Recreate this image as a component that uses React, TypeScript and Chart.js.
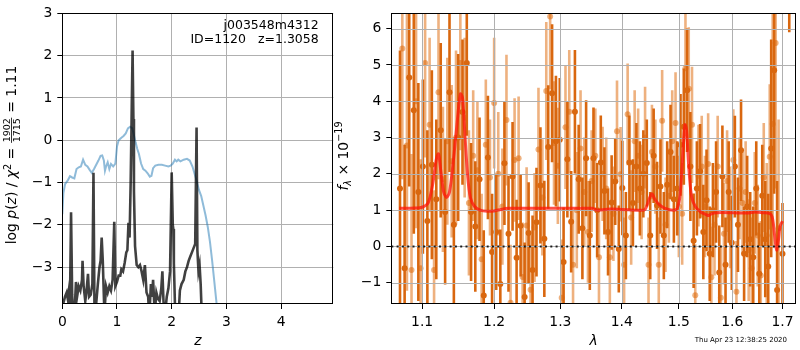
import React, { useEffect, useRef } from 'react';
import { Chart, registerables } from 'chart.js';
Chart.register(...registerables);

const FAMILY = "'DejaVu Sans', sans-serif";
Chart.defaults.font.family = FAMILY;
Chart.defaults.font.size = 13.9;
Chart.defaults.color = '#000';

// ---------------- left panel: redshift PDF ----------------
const CHI_Z = [0.00,0.02,0.05,0.10,0.14,0.18,0.22,0.26,0.30,0.34,0.38,0.42,0.46,0.50,0.54,0.58,0.62,0.66,0.70,0.73,0.76,0.78,0.80,0.83,0.86,0.89,0.93,0.97,1.00,1.03,1.08,1.12,1.16,1.20,1.24,1.28,1.31,1.34,1.37,1.40,1.44,1.48,1.52,1.56,1.60,1.63,1.66,1.70,1.76,1.82,1.88,1.94,1.98,2.02,2.06,2.09,2.12,2.16,2.22,2.28,2.33,2.38,2.42,2.46,2.50,2.54,2.58,2.62,2.66,2.70,2.74,2.78,2.82,2.86];
const CHI_LOG = [-1.75,-1.25,-1.04,-0.95,-0.85,-0.88,-0.90,-0.68,-0.64,-0.62,-0.46,-0.58,-0.62,-0.70,-0.77,-0.68,-0.58,-0.48,-0.37,-0.36,-0.48,-0.72,-0.62,-0.52,-0.68,-0.56,-0.62,-0.55,-0.15,0.00,0.06,0.10,0.16,0.28,0.32,0.28,0.12,-0.05,-0.20,-0.32,-0.55,-0.68,-0.72,-0.78,-0.86,-0.84,-0.66,-0.60,-0.58,-0.58,-0.60,-0.62,-0.60,-0.55,-0.46,-0.50,-0.46,-0.50,-0.46,-0.44,-0.48,-0.62,-0.80,-0.98,-1.18,-1.32,-1.55,-1.78,-2.05,-2.40,-2.85,-3.35,-3.85,-4.50];

const PZ_Z = [0.00,0.02,0.05,0.08,0.10,0.12,0.14,0.16,0.18,0.20,0.23,0.25,0.27,0.30,0.33,0.36,0.37,0.39,0.42,0.44,0.47,0.49,0.52,0.55,0.57,0.59,0.62,0.65,0.68,0.70,0.72,0.74,0.77,0.80,0.83,0.86,0.89,0.92,0.95,0.97,1.00,1.03,1.06,1.08,1.11,1.14,1.17,1.19,1.21,1.23,1.25,1.27,1.285,1.30,1.31,1.33,1.36,1.39,1.42,1.45,1.48,1.51,1.54,1.57,1.59,1.62,1.64,1.66,1.69,1.72,1.75,1.78,1.81,1.83,1.85,1.87,1.91,1.94,1.97,2.00,2.02,2.03,2.04,2.06,2.08,2.12,2.15,2.18,2.22,2.25,2.28,2.31,2.34,2.37,2.40,2.43,2.455,2.47,2.49,2.51,2.53,2.56];
const PZ_LOG = [-3.87,-3.85,-3.70,-3.60,-3.75,-3.55,-3.85,-1.70,-3.65,-4.20,-3.90,-3.35,-3.70,-3.45,-3.55,-3.30,-2.85,-3.45,-3.80,-3.60,-3.16,-3.70,-3.65,-3.40,-0.77,-4.30,-3.85,-3.40,-3.00,-2.85,-2.30,-2.85,-4.10,-3.45,-3.60,-3.45,-3.55,-3.30,-1.93,-3.45,-3.35,-3.20,-3.20,-3.05,-3.10,-2.90,-2.65,-2.60,-1.95,-2.30,-1.00,0.80,2.12,0.50,-1.20,-2.50,-2.95,-3.00,-2.95,-3.10,-3.30,-2.95,-3.60,-3.70,-4.20,-3.40,-3.70,-3.30,-4.10,-3.60,-3.75,-3.80,-3.50,-3.10,-3.80,-4.20,-3.70,-3.50,-3.10,-0.76,-2.00,-2.10,-2.90,-3.90,-4.50,-4.30,-3.55,-3.40,-3.30,-3.10,-3.00,-2.85,-2.75,-2.65,-2.55,-2.45,0.30,-2.60,-3.10,-2.95,-3.40,-4.50];

const LEFT_X_MIN = 0, LEFT_X_MAX = 4.955;
const LEFT_Y_MIN = -3.871, LEFT_Y_MAX = 3;
const LEFT_X_TICKS = [0, 1, 2, 3, 4];
const LEFT_Y_TICKS = [-3, -2, -1, 0, 1, 2, 3];
const OBJ_NAME = 'j003548m4312';
const OBJ_INFO = 'ID=1120   z=1.3058';

// ---------------- right panel: spectrum ----------------
// darker (first) spectrum
const D_LAM = [1.071,1.077,1.083,1.089,1.095,1.101,
1.107,1.113,1.119,1.125,1.131,1.137,1.143,1.149,1.155,1.161,1.167,
1.173,1.179,1.185,1.191,1.197,1.203,1.209,1.215,1.221,1.227,1.233,1.239,1.245,1.251,1.257,1.263,
1.269,1.275,1.281,1.287,1.293,1.299,1.305,1.311,1.317,1.323,1.329,1.335,1.341,
1.347,1.353,1.359,1.365,1.371,1.377,1.383,1.389,1.395,1.401,1.407,1.413,1.419,1.425,1.431,1.437,1.443,1.449,1.455,1.461,1.467,1.473,1.479,1.485,1.491,1.497,
1.503,1.509,1.515,1.521,1.527,
1.533,1.539,1.545,1.551,1.557,1.563,1.569,1.575,1.581,1.587,1.593,1.599,1.605,1.611,1.617,1.623,1.629,1.635,1.641,1.647,1.653,1.659,1.665,
1.671,1.677,1.683,1.689,1.700,1.714];
const D_FLUX = [1.6,-0.6,4.65,3.75,1.5,2.2,
0.7,2.25,1.3,3.2,0.95,4.25,0.6,3.0,3.7,5.05,0.95,
0.55,1.85,-1.35,2.45,-0.15,0.4,-1.03,2.29,0.35,1.93,-0.31,0.57,-1.39,0.37,-0.65,0.67,
1.68,0.21,2.74,4.22,2.9,2.94,-0.43,2.4,0.68,3.71,1.85,0.5,2.43,
0.3,2.43,1.0,2.31,1.53,0.4,1.21,1.79,-0.07,1.61,0.3,2.31,1.2,2.2,1.6,2.0,2.3,0.3,2.5,1.13,1.65,0.3,1.7,2.6,1.3,1.6,
2.8,3.3,4.3,2.2,0.16,
1.6,2.07,0.4,1.27,-0.2,1.0,1.5,-0.72,1.93,-0.5,1.5,0.1,2.2,0.6,2.65,-0.2,1.1,0.2,-0.3,1.6,-0.75,1.4,0.2,
-0.55,2.7,4.85,-1.2,-0.2,7.6];
const D_ERR = [3.8,3.4,3.0,3.4,3.0,2.4,
2.5,2.6,2.2,2.4,2.0,2.2,2.4,2.3,2.0,2.0,1.9,
1.8,1.7,1.8,1.7,1.6,1.6,1.5,1.7,1.6,1.5,1.6,1.4,1.5,1.4,1.5,1.5,
1.6,1.6,1.7,1.9,1.8,1.7,1.5,1.6,1.4,1.7,1.5,1.4,1.6,
1.5,1.4,1.3,1.3,1.2,1.2,1.3,1.2,1.2,1.3,1.2,1.3,1.2,1.2,1.3,1.2,1.2,1.2,1.3,1.2,1.3,1.2,1.2,1.3,1.2,1.3,
1.4,1.6,1.7,1.5,1.3,
1.3,1.3,1.3,1.4,1.3,1.3,1.4,1.3,1.4,1.3,1.4,1.3,1.4,1.3,1.4,1.3,1.4,1.3,1.4,1.3,1.4,1.4,1.6,
2.0,3.0,3.4,3.0,1.4,1.7];

// lighter (second) spectrum
const L_LAM = [1.074,1.080,1.086,1.092,1.098,
1.104,1.110,1.116,1.122,1.128,1.134,1.140,1.146,1.152,1.158,1.164,1.170,
1.176,1.182,1.188,1.194,1.200,1.206,1.212,1.218,1.224,1.230,1.236,1.242,1.248,1.254,1.260,
1.266,1.272,1.278,1.284,1.290,1.296,1.302,1.308,1.314,1.320,1.326,1.332,1.338,
1.344,1.350,1.356,1.362,1.368,1.374,1.380,1.386,1.392,1.398,1.404,1.410,1.416,1.422,1.428,1.434,1.440,1.446,1.452,1.458,1.464,1.470,1.476,1.482,1.488,1.494,1.500,
1.506,1.512,1.518,1.524,1.530,
1.536,1.542,1.548,1.554,1.560,1.566,1.572,1.578,1.584,1.590,1.596,1.602,1.608,1.614,1.620,1.626,1.632,1.638,1.644,1.650,1.656,1.662,
1.668,1.674,1.680,1.686,1.692];
const L_FLUX = [5.45,2.78,-0.65,4.0,-0.6,
5.05,3.35,-0.65,4.25,1.85,2.9,2.35,3.0,5.05,3.55,1.2,2.5,
2.1,-0.35,2.8,1.9,3.95,2.0,1.1,3.48,-1.55,2.38,2.43,-0.84,0.58,-1.19,0.52,
2.67,1.35,4.28,6.33,2.85,2.22,-1.41,3.28,3.71,-0.5,1.0,2.7,1.5,
0.4,1.8,2.5,-0.3,2.0,1.6,-0.3,0.9,3.17,1.99,-0.5,3.64,0.8,2.9,2.5,1.5,3.0,-0.5,2.6,2.2,-0.5,3.46,0.6,1.4,2.9,3.4,1.1,
0.9,4.91,4.34,3.35,-1.34,
1.95,2.2,1.1,2.27,-0.85,0.6,2.2,-1.41,0.35,1.8,0.8,2.38,-1.25,1.6,1.2,1.5,-0.1,-0.6,1.2,0.3,-0.8,1.9,
0.3,2.47,3.37,5.6,0.5];
const L_ERR = [3.6,4.0,3.2,3.5,3.0,
2.6,2.4,2.2,2.4,2.0,2.3,2.1,2.4,2.4,2.2,2.0,1.8,
1.9,1.8,1.8,1.6,1.8,1.7,1.6,1.8,1.6,1.7,1.7,1.5,1.6,1.5,1.5,
1.7,1.6,1.9,2.0,1.7,1.6,1.6,1.7,1.7,1.5,1.6,1.6,1.5,
1.4,1.4,1.3,1.3,1.3,1.4,1.3,1.3,1.4,1.3,1.3,1.4,1.3,1.4,1.3,1.3,1.4,1.3,1.3,1.3,1.3,1.4,1.3,1.3,1.4,1.4,1.4,
1.4,1.7,1.7,1.6,1.4,
1.4,1.4,1.4,1.4,1.4,1.4,1.4,1.4,1.4,1.4,1.4,1.4,1.4,1.4,1.4,1.4,1.4,1.4,1.4,1.4,1.5,1.5,
2.0,2.0,3.4,4.0,3.0];

const MODEL_LAM = [1.070,1.090,1.100,1.108,1.114,1.119,1.122,1.125,1.129,1.133,1.137,1.142,1.147,1.152,1.155,1.158,1.162,1.166,1.172,1.180,1.190,1.200,1.210,1.220,1.250,1.300,1.350,1.360,1.380,1.400,1.430,1.440,1.447,1.452,1.457,1.465,1.475,1.490,1.497,1.502,1.507,1.511,1.514,1.518,1.523,1.530,1.540,1.550,1.555,1.560,1.570,1.600,1.630,1.645,1.660,1.675,1.680,1.684,1.688,1.692,1.695,1.700];
const MODEL_FLUX = [1.05,1.06,1.08,1.20,1.70,2.40,2.55,2.10,1.50,1.35,1.50,2.30,3.30,4.20,4.10,3.20,2.00,1.35,1.10,1.00,0.97,0.98,1.02,1.05,1.05,1.05,1.05,1.00,1.03,1.02,1.00,1.02,1.30,1.45,1.30,1.15,1.05,1.00,1.05,1.40,2.50,3.35,3.20,2.20,1.40,1.10,0.95,0.88,0.85,0.90,0.93,0.93,0.92,0.95,0.93,0.90,0.75,0.30,-0.10,0.20,0.55,0.70];

const RIGHT_X_MIN = 1.0598, RIGHT_X_MAX = 1.728;
const RIGHT_Y_MIN = -1.584, RIGHT_Y_MAX = 6.42;
const RIGHT_X_TICKS = [1.1, 1.2, 1.3, 1.4, 1.5, 1.6, 1.7];
const RIGHT_Y_TICKS = [-1, 0, 1, 2, 3, 4, 5, 6];
const TIMESTAMP = 'Thu Apr 23 12:38:25 2020';

const DARK = '#d9670f';
const LIGHT = 'rgba(222,100,0,0.5)';
const GRID = '#b0b0b0';

// ---------------- helpers ----------------
const fmtMinus = (v: number) => (v < 0 ? '\u2212' + String(Math.abs(v)) : String(v));
const fnt = (size: number, italic = false) => `${italic ? 'italic ' : ''}${size}px ${FAMILY}`;

type Part = { t?: string; it?: boolean; s?: number; dy?: number; frac?: [string, string] };

function drawParts(ctx: CanvasRenderingContext2D, parts: Part[], cx: number, cy: number, base: number) {
  ctx.save();
  ctx.translate(cx, cy);
  ctx.rotate(-Math.PI / 2);
  ctx.fillStyle = '#000';
  ctx.textBaseline = 'alphabetic';
  ctx.textAlign = 'left';
  const widths = parts.map((p) => {
    if (p.frac) {
      ctx.font = fnt(p.s || base);
      return Math.max(ctx.measureText(p.frac[0]).width, ctx.measureText(p.frac[1]).width) + 2;
    }
    ctx.font = fnt(p.s || base, !!p.it);
    return ctx.measureText(p.t || '').width;
  });
  const total = widths.reduce((a, b) => a + b, 0);
  let x = -total / 2;
  parts.forEach((p, i) => {
    const w = widths[i];
    if (p.frac) {
      const s = p.s || base;
      ctx.font = fnt(s);
      const barY = -4.4;
      const n = ctx.measureText(p.frac[0]).width;
      const d = ctx.measureText(p.frac[1]).width;
      ctx.fillText(p.frac[0], x + (w - n) / 2, barY - 1.6);
      ctx.fillText(p.frac[1], x + (w - d) / 2, barY + 1.6 + s * 0.73);
      ctx.fillRect(x + 0.5, barY - 0.4, w - 1, 0.8);
    } else {
      ctx.font = fnt(p.s || base, !!p.it);
      ctx.fillText(p.t || '', x, p.dy || 0);
    }
    x += w;
  });
  ctx.restore();
}

function drawFrame(chart: any) {
  const { ctx, chartArea: a } = chart;
  ctx.save();
  ctx.strokeStyle = '#000';
  ctx.lineWidth = 1;
  ctx.strokeRect(Math.round(a.left) + 0.5, Math.round(a.top) + 0.5, Math.round(a.right - a.left) - 1, Math.round(a.bottom - a.top) - 1);
  ctx.restore();
}

const LEFT_TITLE: Part[] = [
  { t: 'log' }, { t: ' ' }, { t: 'p', it: true }, { t: '(' }, { t: 'z', it: true }, { t: ')' }, { t: ' / ' },
  { t: '\u03c7', it: true }, { t: '2', s: 9.7, dy: -5.5 }, { t: ' = ' }, { frac: ['1902', '1715'], s: 9.5 }, { t: ' = 1.11' },
];
const RIGHT_TITLE: Part[] = [
  { t: 'f', it: true }, { t: '\u03bb', it: true, s: 9.7, dy: 3 }, { t: ' \u00d7 10' }, { t: '\u221219', s: 9.7, dy: -5.8 },
];

function tickAxis(extra: any) {
  return {
    border: { display: false },
    ticks: { padding: 5, autoSkip: false, maxRotation: 0, color: '#000', font: { size: 13.9 } },
    ...extra,
  };
}

function LeftChart() {
  const ref = useRef<HTMLCanvasElement>(null);
  useEffect(() => {
    const plugin = {
      id: 'leftDeco',
      afterDraw(chart: any) {
        const { ctx, chartArea: a } = chart;
        drawFrame(chart);
        drawParts(ctx, LEFT_TITLE, 16, 155, 13.9);
        ctx.save();
        ctx.fillStyle = '#000';
        ctx.font = fnt(13.9, true);
        ctx.textAlign = 'center';
        ctx.textBaseline = 'alphabetic';
        ctx.fillText('z', (a.left + a.right) / 2, 345);
        ctx.font = fnt(12.5);
        ctx.textAlign = 'right';
        ctx.fillText(OBJ_NAME, a.right - 14.6, 28.5);
        ctx.fillText(OBJ_INFO, a.right - 14.6, 42.7);
        ctx.restore();
      },
    };
    const chart = new Chart(ref.current!, {
      type: 'scatter',
      data: {
        datasets: [
          {
            data: CHI_Z.map((z, i) => ({ x: z, y: CHI_LOG[i] })),
            showLine: true, pointRadius: 0, borderColor: 'rgba(31,119,180,0.5)', borderWidth: 2, order: 2,
          },
          {
            data: PZ_Z.map((z, i) => ({ x: z, y: PZ_LOG[i] })),
            showLine: true, pointRadius: 0, borderColor: 'rgba(0,0,0,0.75)', borderWidth: 2.6, order: 1,
          },
        ],
      },
      options: {
        responsive: false,
        animation: false,
        events: [],
        layout: { padding: { left: 0, top: 6.7, right: 6.7, bottom: 0 } },
        plugins: { legend: { display: false }, tooltip: { enabled: false } },
        scales: {
          x: tickAxis({
            type: 'linear', min: LEFT_X_MIN, max: LEFT_X_MAX,
            afterBuildTicks: (s: any) => { s.ticks = LEFT_X_TICKS.map((v) => ({ value: v })); },
            afterFit: (s: any) => { s.height = 46; },
            grid: { color: GRID, lineWidth: 1, tickColor: '#000', tickLength: 5 },
            ticks: { padding: 5, autoSkip: false, maxRotation: 0, callback: (v: any) => fmtMinus(Number(v)) },
          }),
          y: tickAxis({
            type: 'linear', min: LEFT_Y_MIN, max: LEFT_Y_MAX,
            afterBuildTicks: (s: any) => { s.ticks = LEFT_Y_TICKS.map((v) => ({ value: v })); },
            afterFit: (s: any) => { s.width = 62.3; },
            grid: { color: GRID, lineWidth: 1, tickColor: '#000', tickLength: 5 },
            ticks: { padding: 5, autoSkip: false, callback: (v: any) => fmtMinus(Number(v)) },
          }),
        },
      } as any,
      plugins: [plugin],
    });
    return () => chart.destroy();
  }, []);
  return <canvas ref={ref} width={340} height={350} style={{ position: 'absolute', left: 0, top: 0, width: 340, height: 350 }} />;
}

function RightChart() {
  const ref = useRef<HTMLCanvasElement>(null);
  useEffect(() => {
    const RED_INDEX = 4;
    const plugin = {
      id: 'rightDeco',
      beforeDatasetDraw(chart: any, args: any) {
        if (args.index !== RED_INDEX) return;
        const { ctx, chartArea: a, scales } = chart;
        ctx.save();
        ctx.beginPath();
        ctx.rect(a.left, a.top, a.right - a.left, a.bottom - a.top);
        ctx.clip();
        ctx.strokeStyle = GRID;
        ctx.lineWidth = 1;
        ctx.beginPath();
        RIGHT_X_TICKS.forEach((v) => {
          const p = Math.round(scales.x.getPixelForValue(v)) + 0.5;
          ctx.moveTo(p, a.top); ctx.lineTo(p, a.bottom);
        });
        RIGHT_Y_TICKS.forEach((v) => {
          const p = Math.round(scales.y.getPixelForValue(v)) + 0.5;
          ctx.moveTo(a.left, p); ctx.lineTo(a.right, p);
        });
        ctx.stroke();
        ctx.restore();
      },
      afterDraw(chart: any) {
        const { ctx, chartArea: a } = chart;
        drawFrame(chart);
        drawParts(ctx, RIGHT_TITLE, 18.3, 156, 13.9);
        ctx.save();
        ctx.fillStyle = '#000';
        ctx.font = fnt(13.9, true);
        ctx.textAlign = 'center';
        ctx.textBaseline = 'alphabetic';
        ctx.fillText('\u03bb', (a.left + a.right) / 2, 345);
        ctx.font = fnt(7);
        ctx.textAlign = 'right';
        ctx.fillText(TIMESTAMP, 457, 342);
        ctx.restore();
      },
    };
    const n = (arr: number[], b: number[], c: number[]) => Math.min(arr.length, b.length, c.length);
    const nd = n(D_LAM, D_FLUX, D_ERR);
    const nl = n(L_LAM, L_FLUX, L_ERR);
    const dIdx = Array.from({ length: nd }, (_, i) => i);
    const lIdx = Array.from({ length: nl }, (_, i) => i);
    const chart = new Chart(ref.current!, {
      type: 'scatter',
      data: {
        datasets: [
          {
            type: 'bar', data: lIdx.map((i) => ({ x: L_LAM[i], y: [L_FLUX[i] - L_ERR[i], L_FLUX[i] + L_ERR[i]] })),
            backgroundColor: LIGHT, borderWidth: 0, barThickness: 2.6, inflateAmount: 0, stack: 'eb', order: 6,
          },
          {
            type: 'scatter', data: lIdx.map((i) => ({ x: L_LAM[i], y: L_FLUX[i] })),
            pointRadius: 3, pointBackgroundColor: LIGHT, pointBorderWidth: 0, order: 5,
          },
          {
            type: 'bar', data: dIdx.map((i) => ({ x: D_LAM[i], y: [D_FLUX[i] - D_ERR[i], D_FLUX[i] + D_ERR[i]] })),
            backgroundColor: DARK, borderWidth: 0, barThickness: 2.6, inflateAmount: 0, stack: 'eb', order: 4,
          },
          {
            type: 'scatter', data: dIdx.map((i) => ({ x: D_LAM[i], y: D_FLUX[i] })),
            pointRadius: 3, pointBackgroundColor: DARK, pointBorderWidth: 0, order: 3,
          },
          {
            type: 'line', data: MODEL_LAM.map((l, i) => ({ x: l, y: MODEL_FLUX[i] })),
            borderColor: 'rgba(255,20,10,0.75)', borderWidth: 3, pointRadius: 0, tension: 0.3, order: 2,
          },
          {
            type: 'line', data: [{ x: RIGHT_X_MIN, y: 0 }, { x: RIGHT_X_MAX, y: 0 }],
            borderColor: 'rgba(0,0,0,0.85)', borderWidth: 2, borderDash: [2, 3.3], pointRadius: 0, order: 1,
          },
        ],
      } as any,
      options: {
        responsive: false,
        animation: false,
        events: [],
        layout: { padding: { left: 0, top: 6.7, right: 0.7, bottom: 0 } },
        plugins: { legend: { display: false }, tooltip: { enabled: false } },
        scales: {
          x: tickAxis({
            type: 'logarithmic', min: RIGHT_X_MIN, max: RIGHT_X_MAX, offset: false,
            afterBuildTicks: (s: any) => { s.ticks = RIGHT_X_TICKS.map((v) => ({ value: v })); },
            afterFit: (s: any) => { s.height = 46; },
            grid: { drawOnChartArea: false, offset: false, color: '#000', tickColor: '#000', tickLength: 5 },
            ticks: { padding: 5, autoSkip: false, maxRotation: 0, callback: (v: any) => Number(v).toFixed(1) },
          }),
          y: tickAxis({
            type: 'linear', min: RIGHT_Y_MIN, max: RIGHT_Y_MAX, stacked: false,
            afterBuildTicks: (s: any) => { s.ticks = RIGHT_Y_TICKS.map((v) => ({ value: v })); },
            afterFit: (s: any) => { s.width = 61.3; },
            grid: { drawOnChartArea: false, color: '#000', tickColor: '#000', tickLength: 5 },
            ticks: { padding: 5, autoSkip: false, callback: (v: any) => fmtMinus(Number(v)) },
          }),
        },
      } as any,
      plugins: [plugin],
    });
    return () => chart.destroy();
  }, []);
  return <canvas ref={ref} width={470} height={350} style={{ position: 'absolute', left: 330, top: 0, width: 470, height: 350 }} />;
}

export default function App() {
  return (
    <div style={{ position: 'fixed', left: 0, top: 0, width: 800, height: 350, background: '#fff', overflow: 'hidden' }}>
      <LeftChart />
      <RightChart />
    </div>
  );
}
